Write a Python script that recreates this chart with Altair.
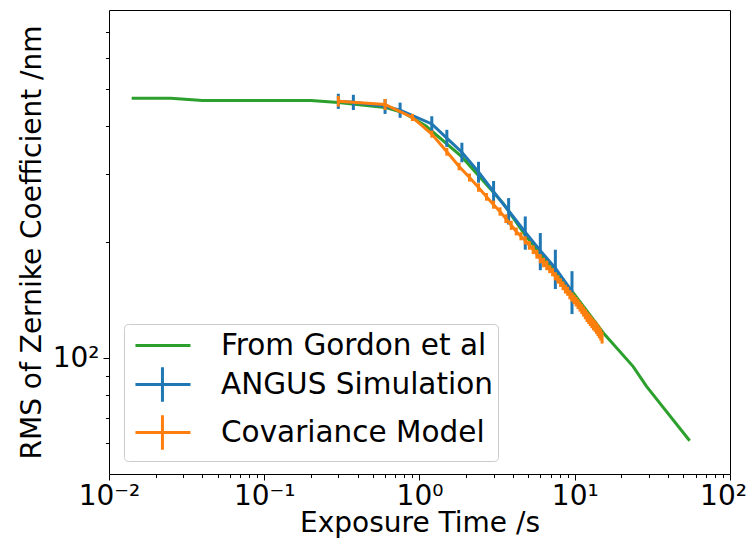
import altair as alt
import pandas as pd

names = ["From Gordon et al", "ANGUS Simulation", "Covariance Model"]
colors = ["#2ca02c", "#1f77b4", "#ff7f0e"]

gordon_t = [0.014, 0.025, 0.04, 0.2, 0.3, 0.6, 0.8, 1.1, 1.87, 3.46, 4.77, 7.55, 9.6, 15.6, 23.8, 29.0, 55.0]
gordon_v = [472, 472, 466, 466, 460, 447, 432, 400, 333, 252, 209, 166, 149, 115, 95, 84.4, 61]

angus_t = [0.3, 0.375, 0.6, 0.75, 1.2, 1.5, 1.875, 2.4, 3.0, 3.75, 4.8, 6.0, 7.5, 9.6]
angus_v = [464, 461, 450, 440, 405, 372, 342, 304, 270, 241, 212, 190, 171, 149]
angus_err = [21, 21, 20, 20, 19, 19, 20, 19, 18, 19, 21, 21, 20, 19]

cov_t = [0.3, 0.6, 0.9, 1.2, 1.5, 1.8, 2.1, 2.4, 2.7, 3.0,
         3.3, 3.6, 3.9, 4.2, 4.5, 4.8, 5.1, 5.4, 5.7, 6.0,
         6.3, 6.6, 6.9, 7.2, 7.5, 7.8, 8.1, 8.4, 8.7, 9.0,
         9.3, 9.6, 9.9, 10.2, 10.5, 10.8, 11.1, 11.4, 11.7, 12.0,
         12.3, 12.6, 12.9, 13.2, 13.5, 13.8, 14.1, 14.4, 14.7, 15.0]
cov_v = [464, 455, 421, 381, 343, 314, 294, 277, 262, 250,
         240, 230, 221, 213, 207, 202, 196, 191, 186, 181,
         177, 174, 170, 167, 163, 160, 157, 154, 151, 149,
         146, 144, 142, 140, 138, 136, 134, 132, 130, 128,
         126.5, 125, 123.5, 122, 121, 119.5, 118, 116.5, 115, 113]
cov_err = [15, 15, 9, 8, 8, 7, 7, 7, 6, 6,
           6, 6, 6, 5, 5, 5, 5, 5, 5, 5,
           5, 5, 4, 4, 4, 4, 4, 4, 4, 4,
           4, 4, 4, 4, 4, 4, 4, 4, 4, 4,
           4, 4, 4, 4, 4, 4, 4, 4, 4, 4]

x_major = [0.01, 0.1, 1, 10, 100]
x_minor = [m * d for d in [0.01, 0.1, 1, 10] for m in range(2, 10)]
y_major = [100]
y_minor = [60, 70, 80, 90, 200, 300, 400, 500, 600, 700]

g_df = pd.DataFrame({"t": gordon_t, "v": gordon_v, "series": names[0]})
a_df = pd.DataFrame({"t": angus_t, "v": angus_v, "series": names[1]})
a_df["lo"] = a_df["v"] - pd.Series(angus_err)
a_df["hi"] = a_df["v"] + pd.Series(angus_err)
c_df = pd.DataFrame({"t": cov_t, "v": cov_v, "series": names[2]})
c_df["lo"] = c_df["v"] - pd.Series(cov_err)
c_df["hi"] = c_df["v"] + pd.Series(cov_err)
leg_df = pd.DataFrame({"series": names})

xs = alt.Scale(type="log", domain=[0.01, 100], nice=False)
ys = alt.Scale(type="log", domain=[50, 800], nice=False)
cs = alt.Scale(domain=names, range=colors)

FS = 28
lab_expr_x = ("datum.value < 0.05 ? '10⁻²' : datum.value < 0.5 ? '10⁻¹' : "
              "datum.value < 5 ? '10⁰' : datum.value < 50 ? '10¹' : '10²'")

ax_x_major = alt.Axis(values=x_major, labelExpr=lab_expr_x, orient="bottom", tickSize=6,
                      labelFontSize=FS, labelPadding=2, title="Exposure Time /s",
                      titleFontSize=FS, titleFontWeight="normal",
                      titleBaseline="alphabetic", titleY=57,
                      labelOffset=alt.condition("datum.value >= 50", alt.value(-7), alt.value(0)),
                      domain=False, grid=False, tickColor="black", labelColor="black",
                      titleColor="black", labelFlush=False)
ax_x_minor = alt.Axis(values=x_minor, labels=False, orient="bottom", tickSize=3.5,
                      domain=False, grid=False, title=None, tickColor="black")
ax_y_major = alt.Axis(values=y_major, labelExpr="'10²'", orient="left", tickSize=6,
                      labelFontSize=FS, labelPadding=4, title="RMS of Zernike Coefficient /nm",
                      titleFontSize=FS, titleFontWeight="normal", titlePadding=6,
                      domain=False, grid=False, tickColor="black", labelColor="black",
                      titleColor="black")
ax_y_minor = alt.Axis(values=y_minor, labels=False, orient="left", tickSize=3.5,
                      domain=False, grid=False, title=None, tickColor="black")

paths = ["M-0.67,0H3.0", "M-0.67,0H3.0M1.13,-1.15V1.15", "M-0.67,0H3.0M1.13,-1.15V1.15"]
leg_cfg = dict(title=None, orient="none", legendX=15, legendY=314, symbolSize=900,
               symbolStrokeWidth=3, symbolFillColor="transparent", symbolOpacity=1,
               labelFontSize=29.5, labelColor="black", labelOffset=59, rowPadding=1,
               padding=5, strokeColor="#cccccc", fillColor="white", cornerRadius=4,
               labelLimit=400)
legend_layer = alt.Chart(leg_df).transform_filter("false").mark_point(
    filled=False, strokeWidth=3, opacity=1
).encode(
    color=alt.Color("series:N", scale=cs, legend=alt.Legend(**leg_cfg)),
    shape=alt.Shape("series:N", scale=alt.Scale(domain=names, range=paths), legend=alt.Legend(**leg_cfg)),
)

green = alt.Chart(g_df).mark_line(strokeWidth=3, clip=True).encode(
    x=alt.X("t:Q", scale=xs, axis=ax_x_major),
    y=alt.Y("v:Q", scale=ys, axis=ax_y_major),
    color=alt.Color("series:N", scale=cs),
)
blue_line = alt.Chart(a_df).mark_line(strokeWidth=3).encode(
    x=alt.X("t:Q", scale=xs, axis=ax_x_minor),
    y=alt.Y("v:Q", scale=ys, axis=ax_y_minor),
    color=alt.Color("series:N", scale=cs),
)
blue_bars = alt.Chart(a_df).mark_rule(strokeWidth=3).encode(
    x=alt.X("t:Q", scale=xs, axis=None),
    y=alt.Y("lo:Q", scale=ys, axis=None),
    y2="hi:Q",
    color=alt.Color("series:N", scale=cs),
)
orange_line = alt.Chart(c_df).mark_line(strokeWidth=3).encode(
    x=alt.X("t:Q", scale=xs, axis=None),
    y=alt.Y("v:Q", scale=ys, axis=None),
    color=alt.Color("series:N", scale=cs),
)
orange_bars = alt.Chart(c_df).mark_rule(strokeWidth=3).encode(
    x=alt.X("t:Q", scale=xs, axis=None),
    y=alt.Y("lo:Q", scale=ys, axis=None),
    y2="hi:Q",
    color=alt.Color("series:N", scale=cs),
)

chart = alt.layer(legend_layer, green, blue_line, blue_bars, orange_line, orange_bars).resolve_axis(
    x="independent", y="independent"
).properties(
    width=621, height=464,
    autosize=alt.AutoSizeParams(type="none"),
    padding={"left": 101, "top": 2, "right": 18, "bottom": 64},
).configure(font="DejaVu Sans").configure_view(stroke="black", strokeWidth=1)

chart.save("out.html", embed_options={"renderer": "svg", "actions": False})
